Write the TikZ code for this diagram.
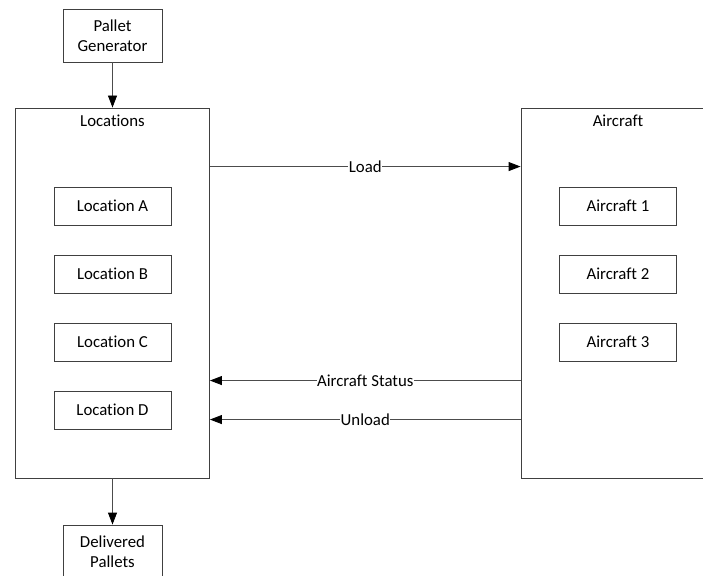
\documentclass[tikz,border=0pt]{standalone}
\usepackage{fontspec}
\setmainfont{Carlito}[Ligatures=NoCommon]
\usetikzlibrary{arrows.meta}
\tikzset{
  txt/.style={font=\fontsize{16.8}{20}\selectfont},
  box/.style={draw=black!75, line width=0.9pt, fill=white, rectangle, inner sep=0pt, align=center, txt},
  container/.style={box, minimum width=194pt, minimum height=370pt},
  inner/.style={box, minimum width=117pt, minimum height=38pt},
  outer/.style={box, minimum width=99pt, minimum height=53pt},
  arr/.style={draw=black!70, line width=0.9pt, -{Triangle[length=12pt,width=9pt,color=black,fill=black]}},
  lbl/.style={fill=white, inner sep=0.5pt, txt},
  ttl/.style={anchor=north, yshift=-7pt, txt, inner sep=0pt}
}
\begin{document}
\begin{tikzpicture}[x=1pt,y=-1pt]
\useasboundingbox (0,0) rectangle (703,575);
\clip (0,0) rectangle (703,575);
\node[outer] (gen) at (112.5,35.5) {Pallet\\Generator};
\node[container, label={[ttl]north:Locations}] (loc) at (112.5,293) {};
\node[container, label={[ttl]north:Aircraft}] (ac) at (618,293) {};
\node[inner] (la) at (112.5,206) {Location A};
\node[inner] (lb) at (112.5,274) {Location B};
\node[inner] (lc) at (112.5,342) {Location C};
\node[inner] (ld) at (112.5,410) {Location D};
\node[inner] (a1) at (618,206) {Aircraft 1};
\node[inner] (a2) at (618,274) {Aircraft 2};
\node[inner] (a3) at (618,342) {Aircraft 3};
\node[outer] (del) at (112.5,551.5) {Delivered\\Pallets};
\draw[arr] (gen.south) -- (loc.north);
\draw[arr] (loc.south) -- (del.north);
\draw[arr] ([yshift=-59pt]loc.north east) -- ([yshift=-59pt]ac.north west) node[midway, lbl] {Load};
\draw[arr] ([yshift=-273pt]ac.north west) -- ([yshift=-273pt]loc.north east) node[midway, lbl] {Aircraft Status};
\draw[arr] ([yshift=-312pt]ac.north west) -- ([yshift=-312pt]loc.north east) node[midway, lbl] {Unload};
\end{tikzpicture}
\end{document}
